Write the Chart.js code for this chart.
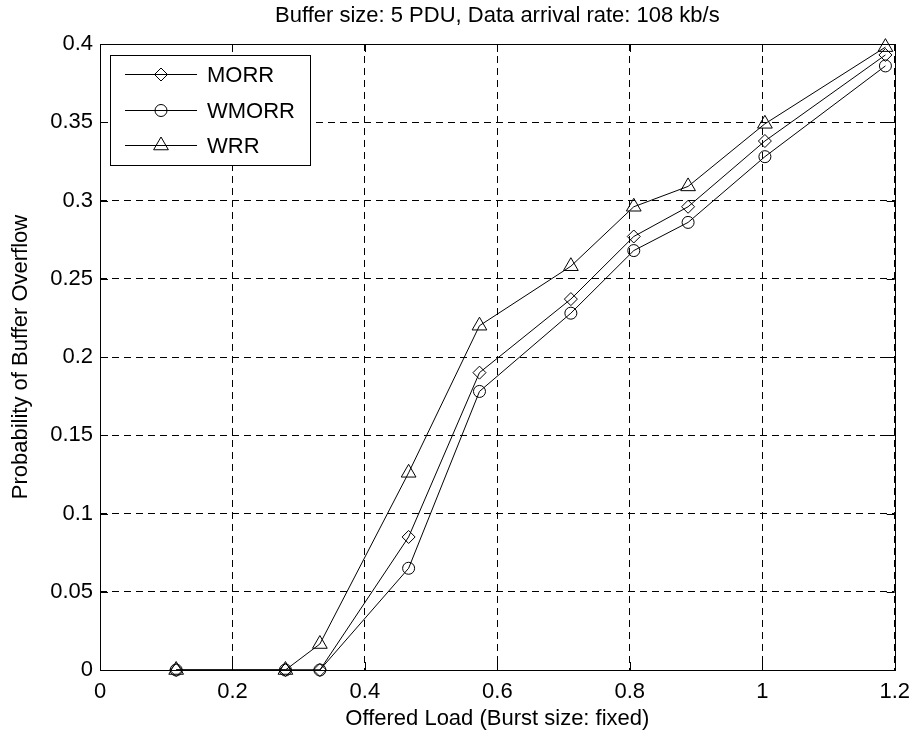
<!DOCTYPE html>
<html lang="en">
<head>
<meta charset="UTF-8">
<title>Probability of Buffer Overflow</title>
<script src="https://cdn.jsdelivr.net/npm/chart.js@4.4.2/dist/chart.umd.min.js"></script>
<style>
  body { margin: 0; background: #fff; }
  canvas { display: block; }
</style>
</head>
<body>
<canvas id="overflowChart" width="919" height="736"></canvas>
<script>
// offered load and overflow probability for each scheduler
const offeredLoad = [0.115, 0.28, 0.332, 0.466, 0.573, 0.711, 0.806, 0.888, 1.004, 1.186];
const morr  = [0, 0, 0, 0.085, 0.19, 0.237, 0.277, 0.296, 0.338, 0.393];
const wmorr = [0, 0, 0, 0.065, 0.178, 0.228, 0.268, 0.286, 0.328, 0.386];
const wrr   = [0, 0, 0.0166, 0.126, 0.22, 0.258, 0.296, 0.309, 0.349, 0.398];

const xTicks = [0, 0.2, 0.4, 0.6, 0.8, 1, 1.2];
const yTicks = [0, 0.05, 0.1, 0.15, 0.2, 0.25, 0.3, 0.35, 0.4];

const FONT = '"Liberation Sans", Arial, Helvetica, sans-serif';
const FONT_SIZE = 22;

function series(label, values, style, radius) {
    return {
        label: label,
        data: offeredLoad.map((x, i) => ({ x: x, y: values[i] })),
        showLine: true,
        borderColor: '#000',
        borderWidth: 1,
        pointStyle: style,
        pointRadius: radius,
        pointHoverRadius: radius,
        pointBorderColor: '#000',
        pointBorderWidth: 1,
        pointBackgroundColor: 'rgba(0,0,0,0)',
        clip: false
    };
}

// solid box around the plot with short inward tick marks (matlab style)
const axesBox = {
    id: 'axesBox',
    beforeDatasetsDraw(chart) {
        const { ctx, chartArea: a, scales } = chart;
        const len = 8;
        ctx.save();
        ctx.strokeStyle = '#000';
        ctx.lineWidth = 1;
        ctx.strokeRect(Math.round(a.left) + 0.5, Math.round(a.top) + 0.5,
            Math.round(a.right - a.left), Math.round(a.bottom - a.top));
        ctx.beginPath();
        xTicks.forEach(v => {
            const px = Math.round(scales.x.getPixelForValue(v)) + 0.5;
            ctx.moveTo(px, a.bottom); ctx.lineTo(px, a.bottom - len);
            ctx.moveTo(px, a.top); ctx.lineTo(px, a.top + len);
        });
        yTicks.forEach(v => {
            const py = Math.round(scales.y.getPixelForValue(v)) + 0.5;
            ctx.moveTo(a.left, py); ctx.lineTo(a.left + len, py);
            ctx.moveTo(a.right, py); ctx.lineTo(a.right - len, py);
        });
        ctx.stroke();
        ctx.restore();
    }
};

// title above the axes
const topTitle = {
    id: 'topTitle',
    afterDraw(chart) {
        const { ctx, chartArea: a } = chart;
        ctx.save();
        ctx.fillStyle = '#000';
        ctx.font = FONT_SIZE + 'px ' + FONT;
        ctx.textAlign = 'center';
        ctx.textBaseline = 'middle';
        ctx.fillText('Buffer size: 5 PDU, Data arrival rate: 108 kb/s', (a.left + a.right) / 2, a.top - 28);
        ctx.restore();
    }
};

// boxed legend in the upper left corner: line segment with marker, then label
const boxLegend = {
    id: 'boxLegend',
    afterDraw(chart) {
        const { ctx, chartArea: a } = chart;
        const left = a.left + 10, top = a.top + 11, w = 200, h = 110;
        ctx.save();
        ctx.fillStyle = '#fff';
        ctx.fillRect(left, top, w, h);
        ctx.strokeStyle = '#000';
        ctx.lineWidth = 1;
        ctx.strokeRect(left + 0.5, top + 0.5, w, h);
        ctx.font = FONT_SIZE + 'px ' + FONT;
        ctx.textBaseline = 'middle';
        chart.data.datasets.forEach((ds, i) => {
            const y = Math.round(top + 19 + i * 35.5) + 0.5;
            ctx.beginPath();
            ctx.moveTo(left + 15, y);
            ctx.lineTo(left + 87, y);
            ctx.strokeStyle = '#000';
            ctx.stroke();
            ctx.fillStyle = 'rgba(0,0,0,0)';
            Chart.helpers.drawPoint(ctx, {
                pointStyle: ds.pointStyle,
                radius: ds.pointRadius,
                rotation: 0,
                borderWidth: 1
            }, left + 51, y);
            ctx.fillStyle = '#000';
            ctx.fillText(ds.label, left + 97, y + 1);
        });
        ctx.restore();
    }
};

new Chart(document.getElementById('overflowChart'), {
    type: 'scatter',
    data: {
        datasets: [
            series('MORR', morr, 'rectRot', 6.5),
            series('WMORR', wmorr, 'circle', 6),
            series('WRR', wrr, 'triangle', 8.5)
        ]
    },
    options: {
        responsive: false,
        animation: false,
        layout: { padding: { top: 44, right: 23, left: 0, bottom: 0 } },
        plugins: {
            legend: { display: false },
            tooltip: { enabled: false }
        },
        scales: {
            x: {
                type: 'linear',
                min: 0,
                max: 1.2,
                afterBuildTicks: s => { s.ticks = xTicks.map(v => ({ value: v })); },
                afterFit: s => { s.height = 66; },
                grid: { color: '#000', lineWidth: 1, drawTicks: false },
                border: { display: false, dash: [7, 5] },
                ticks: {
                    color: '#000',
                    padding: 9,
                    maxRotation: 0,
                    font: { family: FONT, size: FONT_SIZE },
                    callback: v => String(+v.toFixed(2))
                },
                title: {
                    display: true,
                    text: 'Offered Load (Burst size: fixed)',
                    color: '#000',
                    font: { family: FONT, size: FONT_SIZE },
                    padding: { top: 0, bottom: 4 }
                }
            },
            y: {
                type: 'linear',
                min: 0,
                max: 0.4,
                afterBuildTicks: s => { s.ticks = yTicks.map(v => ({ value: v })); },
                afterFit: s => { s.width = 100; },
                grid: { color: '#000', lineWidth: 1, drawTicks: false },
                border: { display: false, dash: [7, 5] },
                ticks: {
                    color: '#000',
                    padding: 7,
                    font: { family: FONT, size: FONT_SIZE },
                    callback: v => String(+v.toFixed(2))
                },
                title: {
                    display: true,
                    text: 'Probability of Buffer Overflow',
                    color: '#000',
                    font: { family: FONT, size: FONT_SIZE },
                    padding: { top: 8, bottom: 0 }
                }
            }
        }
    },
    plugins: [axesBox, topTitle, boxLegend]
});
</script>
</body>
</html>
